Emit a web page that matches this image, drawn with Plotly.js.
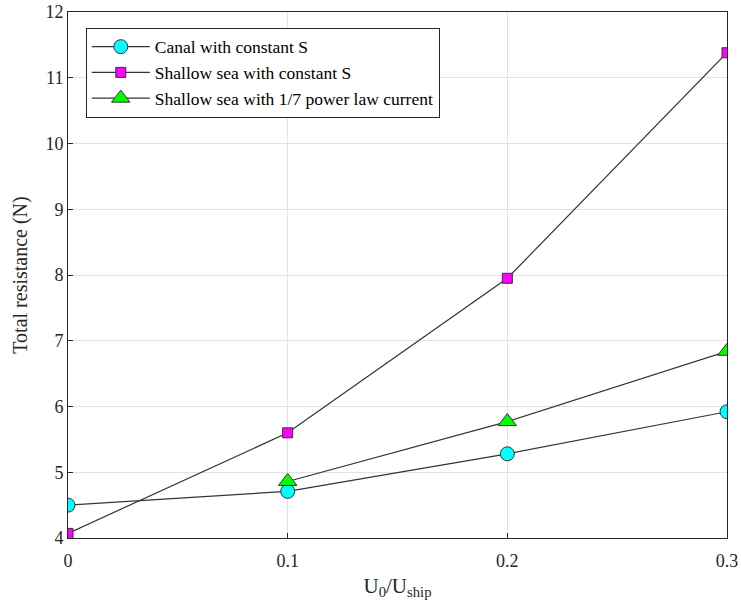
<!DOCTYPE html>
<html><head><meta charset="utf-8">
<script src="https://cdn.plot.ly/plotly-3.0.1.min.js"></script>
<style>body{margin:0;background:#fff}#c{width:741px;height:608px}</style>
</head><body><div id="c"></div>
<script>
const xCanal = [0, 0.1, 0.2, 0.3];
const yCanal = [4.50, 4.71, 5.28, 5.92];
const xShallow = [0, 0.1, 0.2, 0.3];
const yShallow = [4.07, 5.60, 7.95, 11.38];
const xPower = [0.1, 0.2, 0.3];
const yPower = [4.86, 5.77, 6.84];
const names = ["Canal with constant S", "Shallow sea with constant S", "Shallow sea with 1/7 power law current"];

const lineStyle = {color: '#333333', width: 1.2};
const traces = [
  {x: xCanal, y: yCanal, name: names[0], mode: 'lines+markers', line: lineStyle,
   marker: {symbol: 'circle', size: 14, color: '#00ffff', line: {color: '#333', width: 1}}},
  {x: xShallow, y: yShallow, name: names[1], mode: 'lines+markers', line: lineStyle,
   marker: {symbol: 'square', size: 10, color: '#ff00ff', line: {color: '#333', width: 1}}},
  {x: xPower, y: yPower, name: names[2], mode: 'lines+markers', line: lineStyle,
   marker: {symbol: 'triangle-up', size: 16, color: '#00ff00', line: {color: '#333', width: 1}}}
];
const axisCommon = {
  showline: true, mirror: true, linecolor: '#262626', linewidth: 1,
  ticks: 'inside', ticklen: 5, tickcolor: '#262626',
  showgrid: true, gridcolor: '#e3e3e3', gridwidth: 1, zeroline: false,
  tickfont: {family: 'Liberation Serif', size: 18, color: '#262626'}
};
const layout = {
  width: 741, height: 608,
  margin: {l: 68, r: 14, t: 12, b: 70},
  paper_bgcolor: '#fff', plot_bgcolor: '#fff',
  font: {family: 'Liberation Serif', color: '#262626'},
  showlegend: true,
  xaxis: Object.assign({}, axisCommon, {range: [0, 0.3], tickvals: [0, 0.1, 0.2, 0.3], ticktext: ['0', '0.1', '0.2', '0.3'],
    ticklabelstandoff: 6,
    title: {text: 'U<sub>0</sub>/U<sub>ship</sub>', font: {family: 'Liberation Serif', size: 21, color: '#262626'}, standoff: 8}}),
  yaxis: Object.assign({}, axisCommon, {range: [4, 12], dtick: 1,
    title: {text: 'Total resistance (N)', font: {family: 'Liberation Serif', size: 20, color: '#262626'}, standoff: 12}}),
  legend: {x: 0.027, y: 0.97, xanchor: 'left', yanchor: 'top', bgcolor: '#fff', bordercolor: '#262626', borderwidth: 1,
    font: {family: 'Liberation Serif', size: 17.5, color: '#000'}, tracegroupgap: 0, itemwidth: 58}
};
Plotly.newPlot('c', traces, layout, {displayModeBar: false});
</script></body></html>
